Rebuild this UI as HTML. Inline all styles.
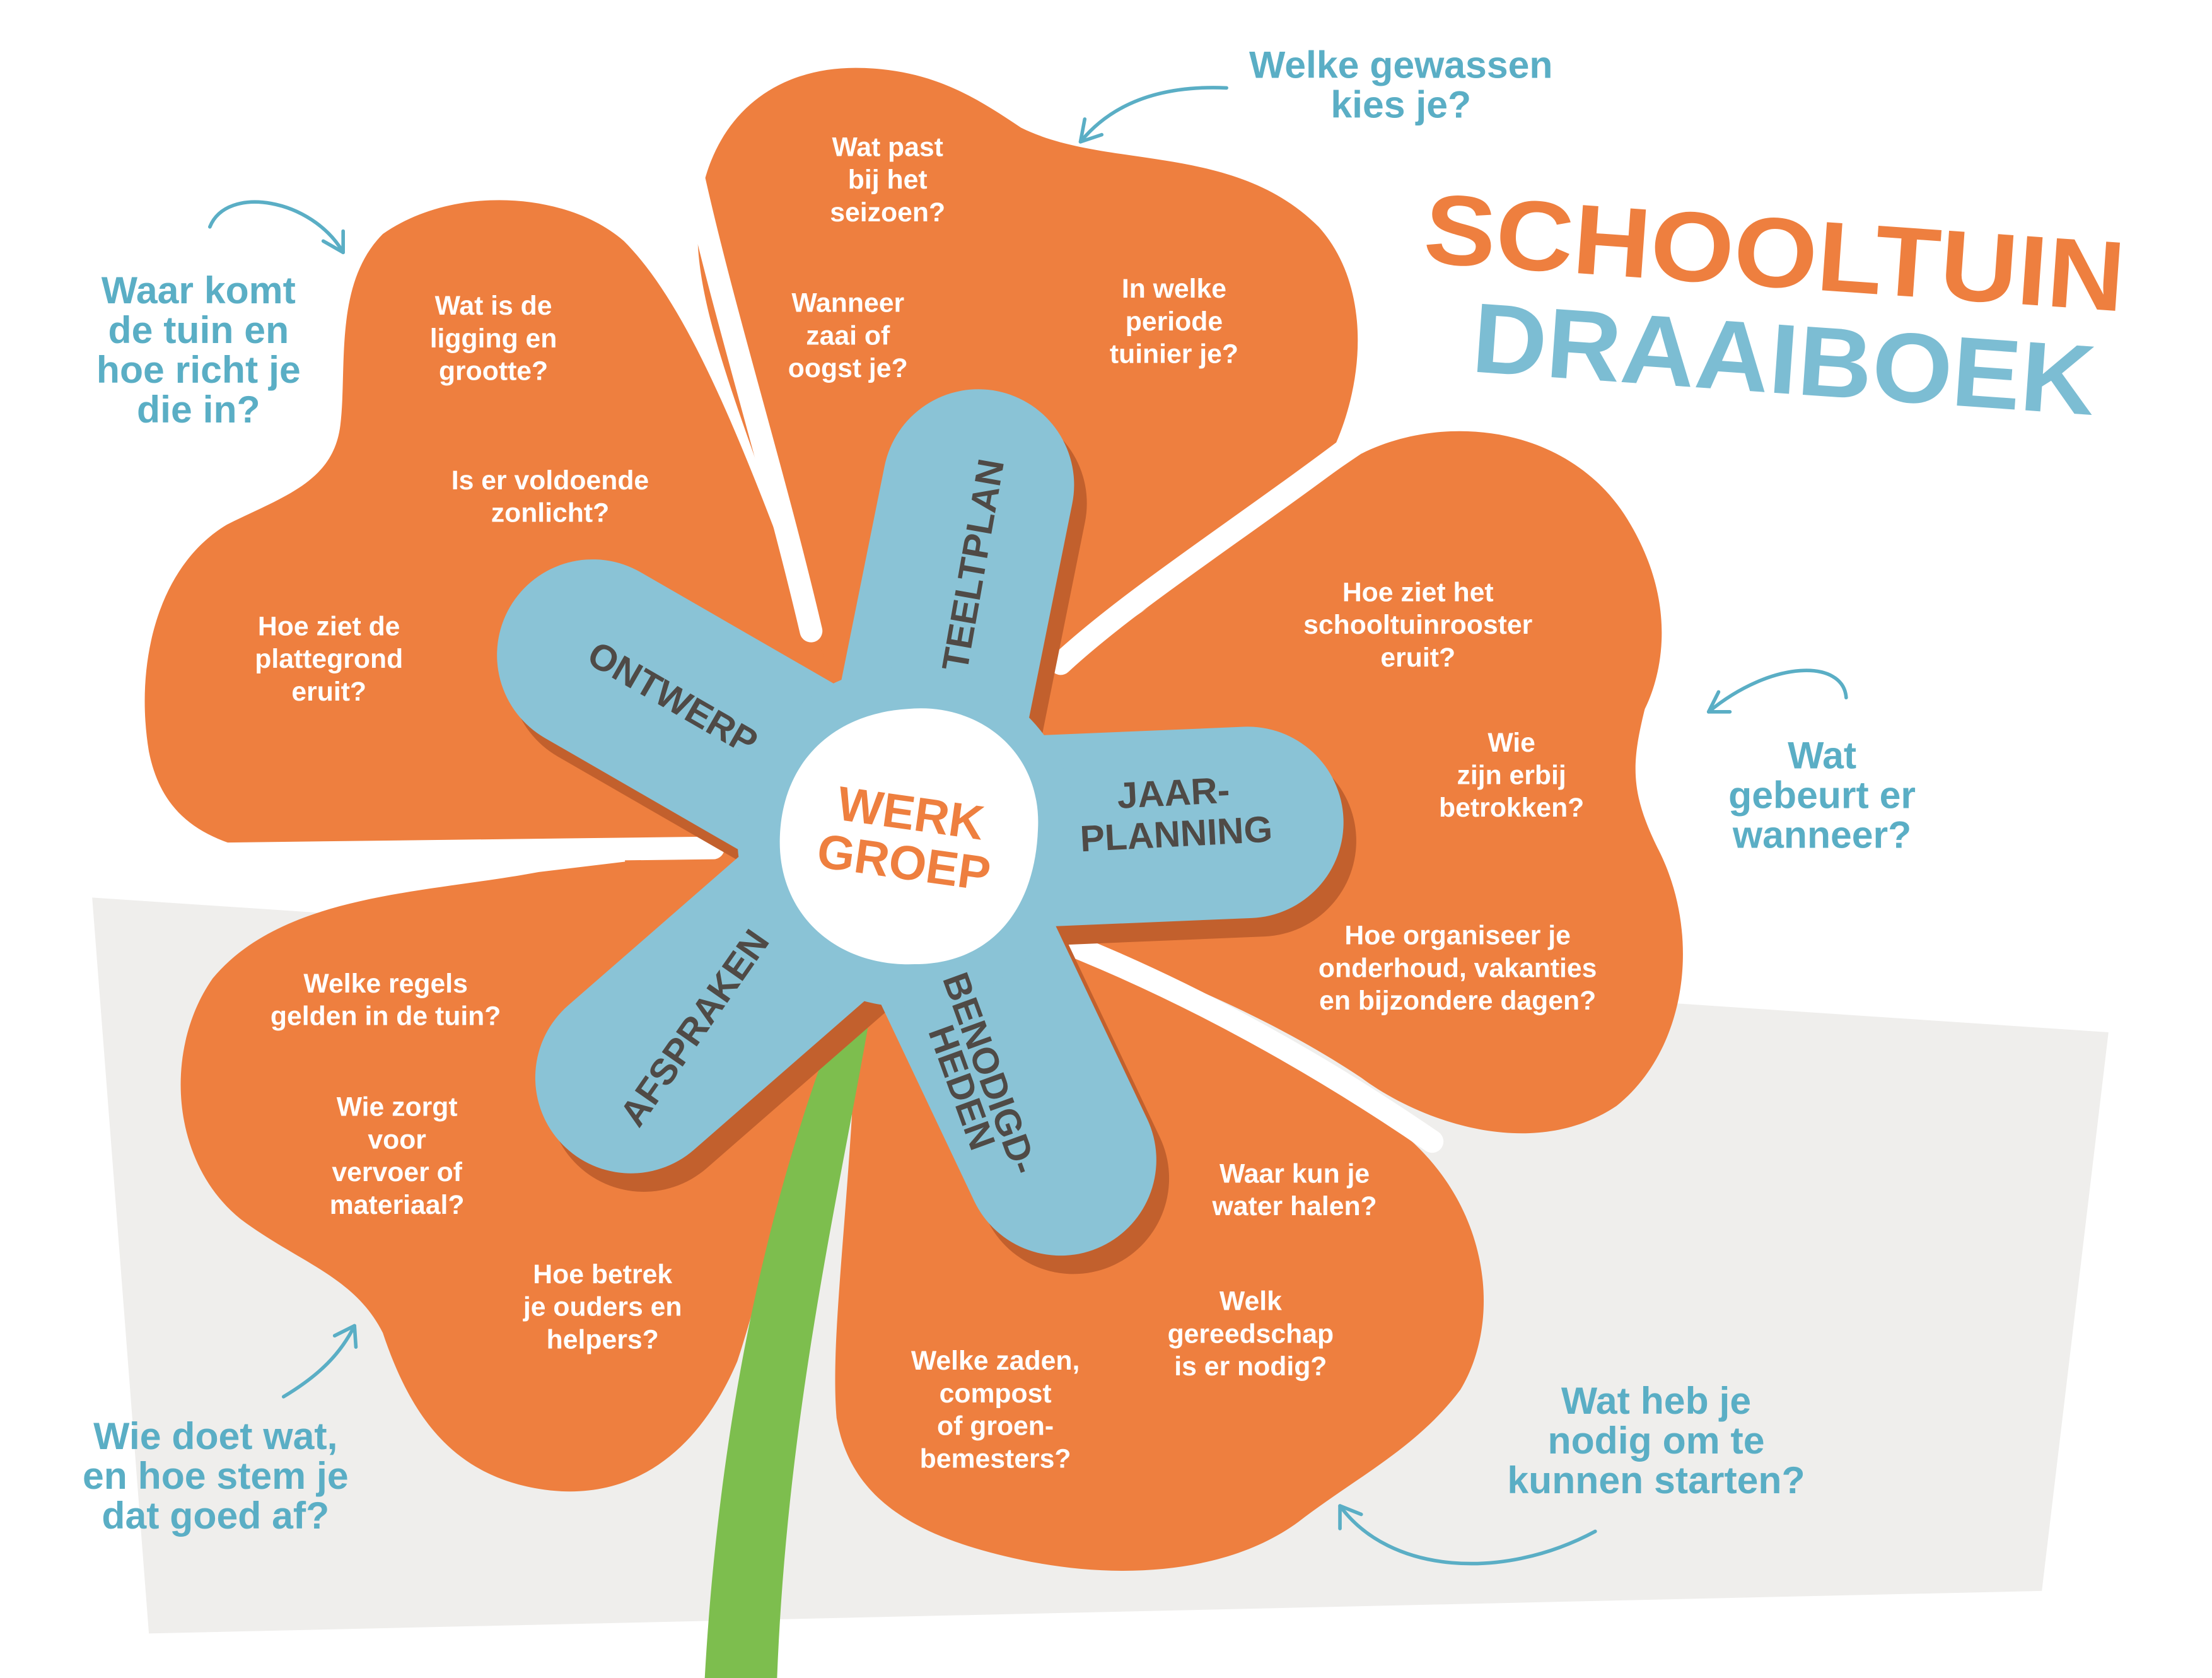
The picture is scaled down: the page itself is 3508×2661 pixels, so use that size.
<!DOCTYPE html>
<html><head><meta charset="utf-8"><style>
html,body{margin:0;padding:0;background:#fff;}
svg{display:block;}
text{font-family:"Liberation Sans","DejaVu Sans",sans-serif;font-weight:bold;}
.q{fill:#fff;font-size:19px;text-anchor:middle;}
.b{fill:#5AAEC5;font-size:27px;text-anchor:middle;}
.p{fill:#4F4A46;font-size:26px;text-anchor:middle;}
.ar{fill:none;stroke:#5AAEC5;stroke-width:2.5;stroke-linecap:round;}
</style></head><body>
<svg width="3508" height="2661" viewBox="0 0 1560 1183.4" preserveAspectRatio="none" xmlns="http://www.w3.org/2000/svg">
<rect width="1560" height="1184" fill="#fff"/>
<polygon points="65,633 1487,728 1440,1122 105,1152" fill="#EFEEEC"/>
<g fill="#EE7F3F">
<circle cx="640" cy="590" r="200"/>
<path d="M575,450 C540,330 490,230 492,160 C495,90 540,45 610,48 C660,50 690,70 720,90 C780,120 870,100 930,160 C975,210 960,300 920,350 C870,400 800,430 745,470 L640,590 Z"/>
<path d="M575,450 C530,330 490,220 440,170 C400,135 320,130 270,165 C235,200 245,260 240,300 C235,340 200,350 160,370 C110,400 95,470 105,530 C115,580 150,600 220,605 L505,598 L640,590 Z"/>
<path d="M745,470 C830,420 900,360 960,320 C1020,290 1110,300 1150,370 C1185,430 1170,480 1160,500 C1150,540 1150,560 1170,600 C1200,660 1190,740 1140,780 C1080,820 1000,790 960,760 C900,720 830,690 760,665 L640,590 Z"/>
<path d="M760,665 C850,710 940,760 990,800 C1050,850 1060,930 1030,980 C1000,1020 960,1040 920,1070 C870,1110 790,1115 720,1100 C650,1085 600,1060 590,1000 C585,940 600,850 605,700 L640,590 Z"/>
<path d="M605,700 C560,800 540,900 520,960 C490,1030 440,1060 380,1050 C320,1040 290,1000 270,940 C250,900 210,890 170,860 C120,820 115,740 150,690 C200,630 300,630 380,615 L505,600 L640,590 Z"/>
</g>
<g stroke="#fff" stroke-linecap="round" fill="none">
<path d="M488,120 C510,220 545,330 572,445" stroke-width="16"/>
<path d="M965,305 C880,370 800,420 748,468" stroke-width="16"/>
<path d="M752,665 C840,700 930,750 1010,805" stroke-width="16"/>
<path d="M95,603 L503,598" stroke-width="16"/>
</g>
<path d="M590,720 C560,800 510,950 497,1184 L548,1184 C555,1000 590,850 612,725 Z" fill="#7DBE4E"/>
<g stroke="#C2602D" stroke-linecap="round" fill="none" transform="translate(9,13)">
<line x1="640" y1="590" x2="690" y2="342" stroke-width="135"/>
<line x1="640" y1="590" x2="418" y2="462" stroke-width="135"/>
<line x1="640" y1="590" x2="880" y2="580" stroke-width="135"/>
<line x1="640" y1="590" x2="748" y2="818" stroke-width="135"/>
<line x1="640" y1="590" x2="445" y2="760" stroke-width="135"/>
</g>
<g stroke="#8AC3D6" stroke-linecap="round" fill="none">
<line x1="640" y1="590" x2="690" y2="342" stroke-width="135"/>
<line x1="640" y1="590" x2="418" y2="462" stroke-width="135"/>
<line x1="640" y1="590" x2="880" y2="580" stroke-width="135"/>
<line x1="640" y1="590" x2="748" y2="818" stroke-width="135"/>
<line x1="640" y1="590" x2="445" y2="760" stroke-width="135"/>
</g>
<circle cx="640" cy="590" r="120" fill="#8AC3D6"/>
<path d="M640,500 C690,495 735,530 732,585 C730,640 700,680 645,680 C590,682 548,645 550,590 C552,535 590,503 640,500 Z" fill="#fff"/>
<g transform="rotate(8 640 590)">
<text x="640" y="585" fill="#EE7F3F" font-size="34" text-anchor="middle">WERK</text>
<text x="640" y="620" fill="#EE7F3F" font-size="34" text-anchor="middle">GROEP</text>
</g>
<text class="p" transform="translate(695,400) rotate(-80)">TEELTPLAN</text>
<text class="p" transform="translate(470,500) rotate(30)">ONTWERP</text>
<text class="p" transform="translate(828,568) rotate(-3)">JAAR-</text>
<text class="p" transform="translate(830,597) rotate(-3)">PLANNING</text>
<text class="p" transform="translate(497,730) rotate(-55)">AFSPRAKEN</text>
<text class="p" transform="translate(690,760) rotate(70)">BENODIGD-</text>
<text class="p" transform="translate(670,770) rotate(70)">HEDEN</text>
<g class="q">
<text x="626" y="110">Wat past</text><text x="626" y="133">bij het</text><text x="626" y="156">seizoen?</text>
<text x="598" y="220">Wanneer</text><text x="598" y="243">zaai of</text><text x="598" y="266">oogst je?</text>
<text x="828" y="210">In welke</text><text x="828" y="233">periode</text><text x="828" y="256">tuinier je?</text>
<text x="348" y="222">Wat is de</text><text x="348" y="245">ligging en</text><text x="348" y="268">grootte?</text>
<text x="388" y="345">Is er voldoende</text><text x="388" y="368">zonlicht?</text>
<text x="232" y="448">Hoe ziet de</text><text x="232" y="471">plattegrond</text><text x="232" y="494">eruit?</text>
<text x="1000" y="424">Hoe ziet het</text><text x="1000" y="447">schooltuinrooster</text><text x="1000" y="470">eruit?</text>
<text x="1066" y="530">Wie</text><text x="1066" y="553">zijn erbij</text><text x="1066" y="576">betrokken?</text>
<text x="1028" y="666">Hoe organiseer je</text><text x="1028" y="689">onderhoud, vakanties</text><text x="1028" y="712">en bijzondere dagen?</text>
<text x="272" y="700">Welke regels</text><text x="272" y="723">gelden in de tuin?</text>
<text x="280" y="787">Wie zorgt</text><text x="280" y="810">voor</text><text x="280" y="833">vervoer of</text><text x="280" y="856">materiaal?</text>
<text x="425" y="905">Hoe betrek</text><text x="425" y="928">je ouders en</text><text x="425" y="951">helpers?</text>
<text x="913" y="834">Waar kun je</text><text x="913" y="857">water halen?</text>
<text x="882" y="924">Welk</text><text x="882" y="947">gereedschap</text><text x="882" y="970">is er nodig?</text>
<text x="702" y="966">Welke zaden,</text><text x="702" y="989">compost</text><text x="702" y="1012">of groen-</text><text x="702" y="1035">bemesters?</text>
</g>
<g class="b">
<text x="988" y="55">Welke gewassen</text><text x="988" y="83">kies je?</text>
<text x="140" y="214">Waar komt</text><text x="140" y="242">de tuin en</text><text x="140" y="270">hoe richt je</text><text x="140" y="298">die in?</text>
<text x="1285" y="542">Wat</text><text x="1285" y="570">gebeurt er</text><text x="1285" y="598">wanneer?</text>
<text x="152" y="1022">Wie doet wat,</text><text x="152" y="1050">en hoe stem je</text><text x="152" y="1078">dat goed af?</text>
<text x="1168" y="997">Wat heb je</text><text x="1168" y="1025">nodig om te</text><text x="1168" y="1053">kunnen starten?</text>
</g>
<text transform="translate(1003,185) rotate(4)" fill="#EE7F3F" font-size="70" textLength="495" lengthAdjust="spacingAndGlyphs">SCHOOLTUIN</text>
<text transform="translate(1037,262) rotate(4)" fill="#7CBDD3" font-size="70" textLength="440" lengthAdjust="spacingAndGlyphs">DRAAIBOEK</text>
<g class="ar">
<path d="M865,62 C820,60 785,72 762,100"/><path d="M762,100 L765,84 M762,100 L777,95"/>
<path d="M148,160 C160,130 220,140 242,178"/><path d="M242,178 L228,170 M242,178 L242,163"/>
<path d="M1302,492 C1300,465 1250,465 1205,502"/><path d="M1205,502 L1212,488 M1205,502 L1220,502"/>
<path d="M200,985 C225,970 240,955 250,935"/><path d="M250,935 L236,942 M250,935 L251,950"/>
<path d="M1125,1080 C1060,1115 980,1110 945,1062"/><path d="M945,1062 L945,1078 M945,1062 L960,1068"/>
</g>
</svg>
</body></html>
